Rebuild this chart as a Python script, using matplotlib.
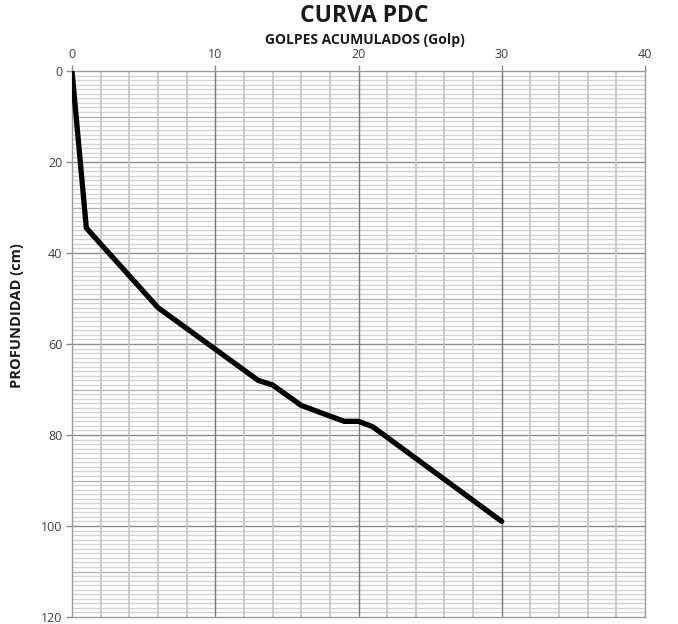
import matplotlib
matplotlib.use("Agg")
import matplotlib.pyplot as plt
import numpy as np

golpes = [0, 1, 6, 13, 14, 16, 19, 20, 21, 30]
profundidad = [0, 34.5, 52, 68, 69, 73.5, 77, 77, 78.2, 99]

title = "CURVA PDC"
xlabel = "GOLPES ACUMULADOS (Golp)"
ylabel = "PROFUNDIDAD (cm)"

plt.rcParams['font.family'] = ['Open Sans', 'DejaVu Sans']

fig = plt.figure(figsize=(6.78, 6.24), dpi=100)
ax = fig.add_axes([72/678, 1-617/624, (645-72)/678, (617-71)/624])

ax.set_xlim(0, 40)
ax.set_ylim(120, 0)

# grid lines
for y in np.arange(1, 120, 1):
    if y % 20 == 0:
        ax.axhline(y, color='#8c8c8c', lw=1.0, zorder=1)
    elif y % 10 == 0:
        ax.axhline(y, color='#b4b4b4', lw=1.0, zorder=1)
    else:
        ax.axhline(y, color='#d3d3d3', lw=1.0, zorder=0.5)
for x in np.arange(2, 40, 2):
    if x % 10 == 0:
        ax.axvline(x, color='#7a7a7a', lw=1.0, zorder=1)
    else:
        ax.axvline(x, color='#c4c4c4', lw=1.2, zorder=1)

ax.plot(golpes, profundidad, color='black', lw=3.8, solid_joinstyle='round',
        solid_capstyle='round', zorder=3)

ax.xaxis.tick_top()
ax.set_xticks([0, 10, 20, 30, 40])
ax.set_yticks([0, 20, 40, 60, 80, 100, 120])
ax.tick_params(axis='both', labelsize=9, colors='#8c8c8c', labelcolor='#404040',
               length=4, width=1, pad=3)
for s in ax.spines.values():
    s.set_color('#9a9a9a')
    s.set_linewidth(1.0)

fig.text(364/678, 1-16/624, title, ha='center', va='center', fontsize=16.5,
         fontweight='bold', color='#1a1a1a')
fig.text(365/678, 1-40/624, xlabel, ha='center', va='center', fontsize=10,
         fontweight='bold', color='#1a1a1a')
fig.text(17/678, 1-316/624, ylabel, ha='center', va='center', fontsize=10.5,
         fontweight='bold', color='#1a1a1a', rotation=90)

fig.savefig("out.png", dpi=100, facecolor='white')
